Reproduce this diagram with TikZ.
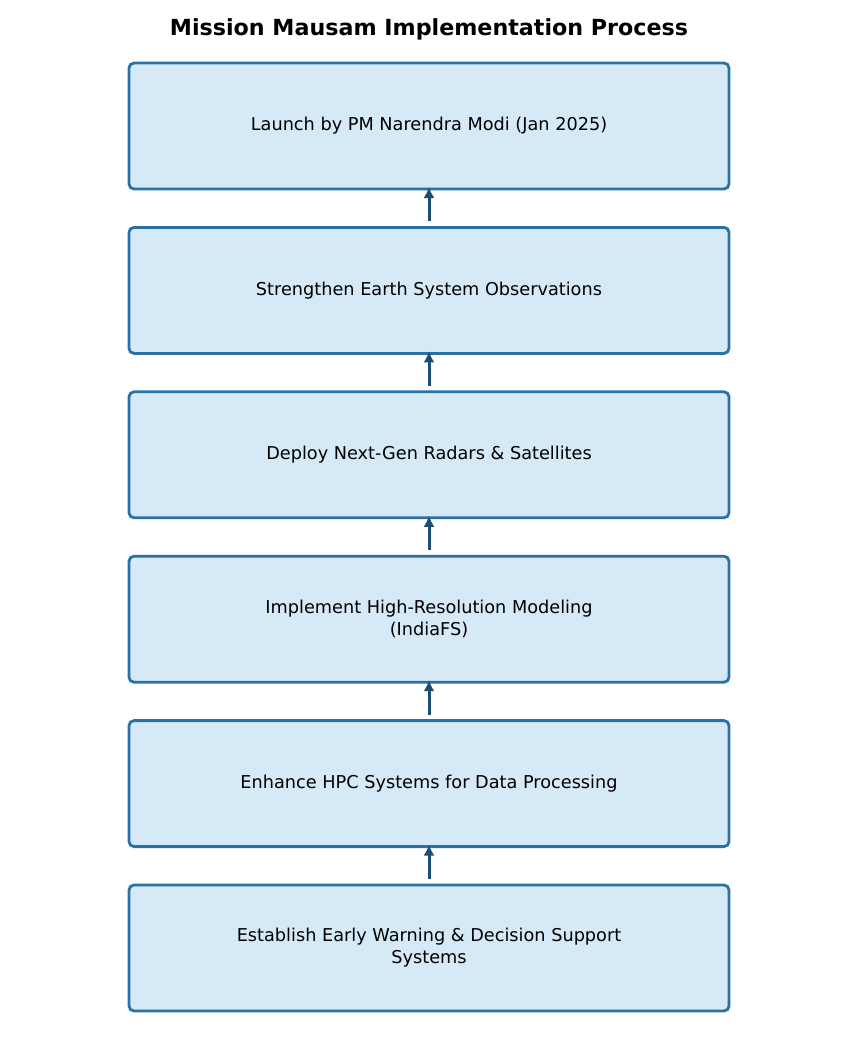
\documentclass[tikz,border=0pt]{standalone}
\usepackage{fontspec}
\setmainfont{DejaVu Sans}
\usepackage{tikz}
\usetikzlibrary{arrows.meta,positioning}
\definecolor{mausamblue}{RGB}{42,113,165}
\definecolor{mausamdark}{RGB}{27,79,114}
\definecolor{mausamlight}{RGB}{214,233,246}
\tikzset{
  stage/.style={draw=mausamblue, line width=2.8pt, rounded corners=5pt, fill=mausamlight,
    minimum width=600pt, minimum height=126pt, align=center, inner sep=0pt, outer sep=0pt,
    font=\fontsize{17.7}{22}\selectfont},
  flow/.style={-{Latex[length=11pt,width=11pt]}, line width=3pt, draw=mausamdark},
  heading/.style={font=\fontsize{22.2}{26}\selectfont\bfseries}
}

\begin{document}
\begin{tikzpicture}[x=1pt, y=-1pt, node distance=38.4pt]
  \useasboundingbox (0,0) rectangle (858,1053);
  \node[heading] (title) at (429,29) {Mission Mausam Implementation Process};
  \node[stage] (launch) at (429,126) {Launch by PM Narendra Modi (Jan 2025)};
  \node[stage, below=of launch] (observe) {Strengthen Earth System Observations};
  \node[stage, below=of observe] (radar) {Deploy Next-Gen Radars \& Satellites};
  \node[stage, below=of radar] (model) {Implement High-Resolution Modeling\\(IndiaFS)};
  \node[stage, below=of model] (hpc) {Enhance HPC Systems for Data Processing};
  \node[stage, below=of hpc] (warn) {Establish Early Warning \& Decision Support\\Systems};
  \draw[flow] ([yshift=6pt]observe.north) -- ([yshift=2pt]launch.south);
  \draw[flow] ([yshift=6pt]radar.north) -- ([yshift=2pt]observe.south);
  \draw[flow] ([yshift=6pt]model.north) -- ([yshift=2pt]radar.south);
  \draw[flow] ([yshift=6pt]hpc.north) -- ([yshift=2pt]model.south);
  \draw[flow] ([yshift=6pt]warn.north) -- ([yshift=2pt]hpc.south);
\end{tikzpicture}
\end{document}
